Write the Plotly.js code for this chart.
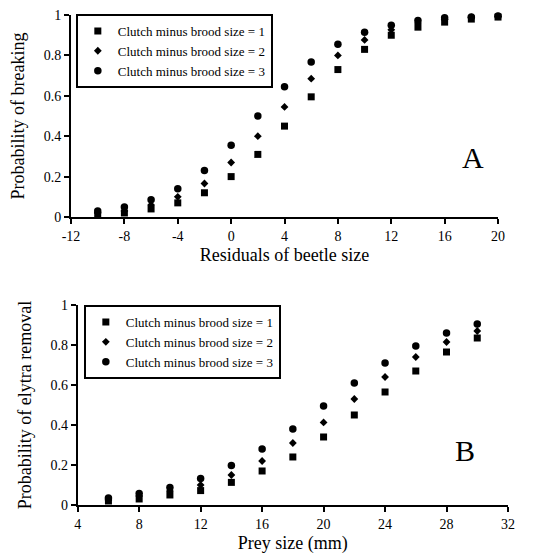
<!DOCTYPE html>
<html><head><meta charset="utf-8">
<script src="https://cdn.plot.ly/plotly-3.0.1.min.js"></script>
<style>body{margin:0;background:#fff}#c{width:534px;height:557px}</style>
</head><body><div id="c"></div>
<script>
const seriesNames = ["Clutch minus brood size = 1","Clutch minus brood size = 2","Clutch minus brood size = 3"];
const symbols = ["square","diamond","circle"];
// Panel A
const xA = [-10,-8,-6,-4,-2,0,2,4,6,8,10,12,14,16,18,20];
const yA1 = [0.01,0.02,0.04,0.07,0.12,0.20,0.31,0.45,0.595,0.73,0.83,0.90,0.94,0.965,0.98,0.99];
const yA2 = [0.02,0.03,0.06,0.10,0.166,0.27,0.40,0.545,0.685,0.80,0.877,0.927,0.96,0.978,0.988,0.993];
const yA3 = [0.03,0.05,0.085,0.14,0.23,0.355,0.50,0.645,0.767,0.855,0.915,0.95,0.973,0.986,0.99,0.995];
const xTicksA = [-12,-8,-4,0,4,8,12,16,20];
const xTickTextA = ["-12","-8","-4","0","4","8","12","16","20"];
// Panel B
const xB = [6,8,10,12,14,16,18,20,22,24,26,28,30];
const yB1 = [0.02,0.03,0.05,0.072,0.113,0.17,0.24,0.34,0.45,0.565,0.67,0.765,0.835];
const yB2 = [0.025,0.045,0.07,0.10,0.15,0.22,0.31,0.413,0.53,0.64,0.74,0.815,0.87];
const yB3 = [0.035,0.058,0.088,0.133,0.197,0.28,0.38,0.495,0.61,0.71,0.795,0.86,0.905];
const xTicksB = [4,8,12,16,20,24,28,32];
const yTicks = [0,0.2,0.4,0.6,0.8,1];
const yTickText = ["0","0.2","0.4","0.6","0.8","1"];

const font = "Liberation Serif, Times New Roman, serif";
const ysA = [yA1,yA2,yA3], ysB = [yB1,yB2,yB3];
const sizes = [7,6,7.5];
const traces = [];
ysA.forEach((y,i)=>traces.push({x:xA,y:y,type:"scatter",mode:"markers",name:seriesNames[i],
  marker:{symbol:symbols[i],color:"#000",size:sizes[i]},cliponaxis:false,xaxis:"x",yaxis:"y",legend:"legend"}));
ysB.forEach((y,i)=>traces.push({x:xB,y:y,type:"scatter",mode:"markers",name:seriesNames[i],
  marker:{symbol:symbols[i],color:"#000",size:sizes[i]},cliponaxis:false,xaxis:"x2",yaxis:"y2",legend:"legend2"}));

const axCommon = {showline:true,linecolor:"#000",linewidth:2,ticks:"outside",ticklen:5,tickwidth:2,tickcolor:"#000",
  showgrid:false,zeroline:false,tickfont:{family:font,size:14,color:"#000"}};
const titleFont = {family:font,size:18,color:"#000"};
const legCommon = {bgcolor:"#fff",bordercolor:"#000",borderwidth:2,font:{family:font,size:13,color:"#000"},
  xanchor:"left",yanchor:"top",tracegroupgap:0,itemwidth:30};
const layout = {
  width:534,height:557,margin:{l:0,r:0,t:0,b:0},paper_bgcolor:"#fff",plot_bgcolor:"#fff",
  font:{family:font,color:"#000"},
  xaxis:Object.assign({},axCommon,{domain:[0.133,0.9326],range:[-12,20],tickvals:xTicksA,ticktext:xTickTextA,
    anchor:"y",title:{text:"Residuals of beetle size",font:titleFont,standoff:6}}),
  yaxis:Object.assign({},axCommon,{domain:[0.6104,0.973],range:[0,1],tickvals:yTicks,ticktext:yTickText,
    anchor:"x",title:{text:"Probability of breaking",font:titleFont,standoff:14}}),
  xaxis2:Object.assign({},axCommon,{domain:[0.1455,0.9513],range:[4,32],tickvals:xTicksB,
    anchor:"y2",title:{text:"Prey size (mm)",font:titleFont,standoff:6}}),
  yaxis2:Object.assign({},axCommon,{domain:[0.0934,0.4524],range:[0,1],tickvals:yTicks,ticktext:yTickText,
    anchor:"x2",title:{text:"Probability of elytra removal",font:titleFont,standoff:14}}),
  legend:Object.assign({},legCommon,{x:0.142,y:0.975}),
  legend2:Object.assign({},legCommon,{x:0.157,y:0.4524}),
  annotations:[
    {text:"A",xref:"paper",yref:"paper",x:0.886,y:0.718,xanchor:"center",yanchor:"middle",showarrow:false,font:{family:font,size:30,color:"#000"}},
    {text:"B",xref:"paper",yref:"paper",x:0.871,y:0.192,xanchor:"center",yanchor:"middle",showarrow:false,font:{family:font,size:30,color:"#000"}}
  ]
};
Plotly.newPlot("c",traces,layout,{displayModeBar:false,staticPlot:true});
</script></body></html>
